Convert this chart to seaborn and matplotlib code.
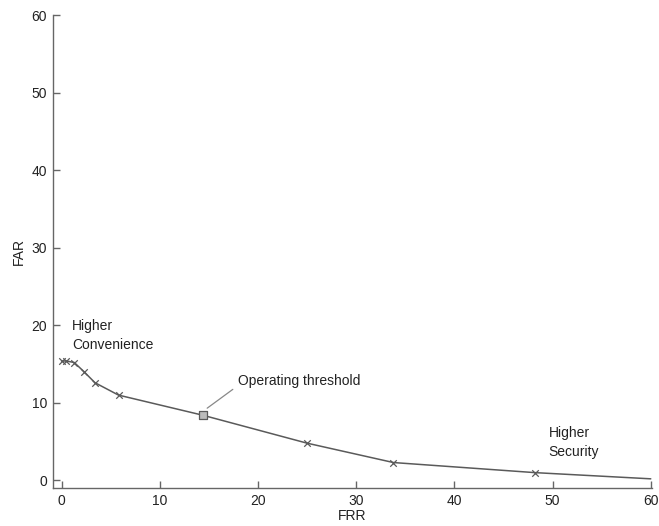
import matplotlib
matplotlib.use("Agg")
import matplotlib.pyplot as plt
import seaborn as sns
import pandas as pd

sns.set_theme(style="white")
plt.rcParams['font.family'] = ['Liberation Sans', 'DejaVu Sans']

# curve points
frr = [0.0, 0.5, 1.3, 2.3, 3.4, 5.8, 14.4, 25.0, 33.8, 48.2, 60.0]
far = [15.4, 15.4, 15.2, 14.0, 12.6, 11.0, 8.4, 4.8, 2.3, 1.0, 0.2]
# which points get an x marker
cross_idx = [0, 1, 2, 3, 4, 5, 7, 8, 9]
op_idx = 6

df = pd.DataFrame({'FRR': frr, 'FAR': far})
cross = df.iloc[cross_idx]
op = df.iloc[[op_idx]]

grey = '#5a5a5a'
fs = 10
fig = plt.figure(figsize=(6.59, 5.26), dpi=100)
ax = fig.add_axes([0.08, 0.072, 0.909, 0.899])

sns.lineplot(data=df, x='FRR', y='FAR', color=grey, lw=1.1, ax=ax, sort=False)
sns.scatterplot(data=cross, x='FRR', y='FAR', marker='x', s=22, color=grey,
                linewidth=0.9, ax=ax, zorder=3)
sns.scatterplot(data=op, x='FRR', y='FAR', marker='s', s=30, facecolor='#bbbbbb',
                edgecolor=grey, linewidth=0.9, ax=ax, zorder=3)

ax.set_xlim(-0.9, 60.1)
ax.set_ylim(-1, 60)
ax.set_xticks(range(0, 61, 10))
ax.set_yticks(range(0, 61, 10))
ax.tick_params(bottom=True, left=True, direction='in', length=5, width=1.0,
               color='#666666', labelsize=fs, labelcolor='#222222', pad=4)
for s in ['top', 'right']:
    ax.spines[s].set_visible(False)
for s in ['left', 'bottom']:
    ax.spines[s].set_color('#666666')
    ax.spines[s].set_linewidth(1.0)
ax.set_xlabel('FRR', fontsize=fs, color='#222222', labelpad=1)
ax.set_ylabel('FAR', fontsize=fs, color='#222222', labelpad=4)

ax.text(1.1, 16.5, 'Higher\nConvenience', fontsize=fs, color='#222222',
        linespacing=1.5, va='bottom')
ax.text(49.6, 2.7, 'Higher\nSecurity', fontsize=fs, color='#222222',
        linespacing=1.5, va='bottom')
ax.annotate('Operating threshold', xy=(14.6, 9.1), xytext=(18.0, 11.9),
            fontsize=fs, color='#222222', va='bottom', ha='left',
            arrowprops=dict(arrowstyle='-', color='#888888', lw=0.9,
                            shrinkA=2, shrinkB=2, relpos=(0, 0.2)))

fig.savefig('out.png', dpi=100)
